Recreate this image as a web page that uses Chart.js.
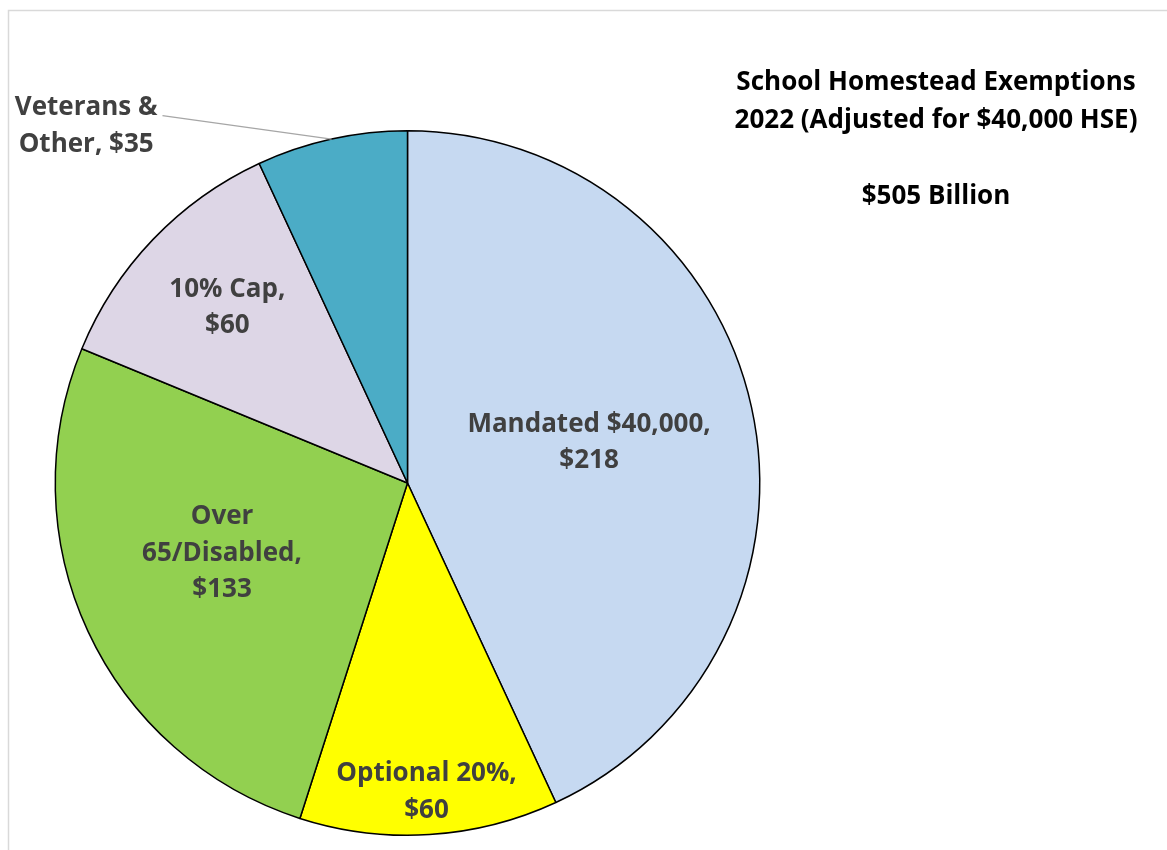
<!DOCTYPE html>
<html>
<head>
<meta charset="utf-8">
<script src="https://cdn.jsdelivr.net/npm/chart.js@4.4.1/dist/chart.umd.min.js"></script>
<style>
  html, body { margin: 0; padding: 0; background: #ffffff; }
  #wrap { width: 1167px; height: 850px; position: relative; }
</style>
</head>
<body>
<div id="wrap"><canvas id="c" width="1167" height="850"></canvas></div>
<script>
// ---- data ----
const categories = ["Mandated $40,000", "Optional 20%", "Over 65/Disabled", "10% Cap", "Veterans & Other"];
const values = [218, 60, 133, 60, 35];
const labelLines = [
  ["Mandated $40,000,", "$218"],
  ["Optional 20%,", "$60"],
  ["Over", "65/Disabled,", "$133"],
  ["10% Cap,", "$60"],
  ["Veterans &", "Other, $35"]
];
const titleLines = ["School Homestead Exemptions", "2022 (Adjusted for $40,000 HSE)"];
const totalLine = "$505 Billion";

// ---- styles ----
const colors = ["#C6D9F1", "#FFFF00", "#92D050", "#DDD6E6", "#4BACC6"];
// label placement: angle offset (deg) from slice mid-angle, radius fraction
const labelPlace = [
  { dAng: -1, f: 0.53, leader: false },
  { dAng: 0, f: 0.87, leader: false },
  { dAng: 5, f: 0.56, leader: false },
  { dAng: 1, f: 0.72, leader: false },
  { dAng: -29.3, f: 1.37, leader: true }
];
const FONT = "'Open Sans', Lato, sans-serif";
const TEXT_DY = 3;

const overlay = {
  id: 'overlay',
  beforeDraw(chart) {
    const ctx = chart.ctx;
    ctx.save();
    ctx.strokeStyle = '#D9D9D9';
    ctx.lineWidth = 1.5;
    ctx.strokeRect(8.5, 10.5, 1400, 1000);
    ctx.restore();
  },
  afterDatasetsDraw(chart) {
    const ctx = chart.ctx;
    const meta = chart.getDatasetMeta(0);
    ctx.save();
    ctx.font = "bold 26px " + FONT;
    ctx.fillStyle = '#404040';
    ctx.textAlign = 'center';
    ctx.textBaseline = 'middle';
    const lh = 36.5;
    meta.data.forEach((arc, i) => {
      const p = arc.getProps(['x', 'y', 'startAngle', 'endAngle', 'outerRadius'], true);
      const mid = (p.startAngle + p.endAngle) / 2;
      const pl = labelPlace[i];
      const a = mid + pl.dAng * Math.PI / 180;
      const cx = p.x + Math.cos(a) * p.outerRadius * pl.f;
      const cy = p.y + Math.sin(a) * p.outerRadius * pl.f;
      const lines = labelLines[i];
      const y0 = cy - (lines.length - 1) * lh / 2;
      lines.forEach((t, k) => ctx.fillText(t, cx, y0 + k * lh + TEXT_DY));
      if (pl.leader) {
        const w = ctx.measureText(lines[0]).width;
        const sx = cx + w / 2 + 5;
        const sy = y0 + TEXT_DY + 8;
        const ex = p.x + Math.cos(mid) * p.outerRadius;
        const ey = p.y + Math.sin(mid) * p.outerRadius;
        ctx.beginPath();
        ctx.strokeStyle = '#A6A6A6';
        ctx.lineWidth = 1.2;
        ctx.moveTo(sx, sy);
        ctx.lineTo(ex, ey);
        ctx.stroke();
      }
    });
    // title
    ctx.fillStyle = '#000000';
    ctx.font = "bold 26px " + FONT;
    ctx.fillText(titleLines[0], 936, 80 + TEXT_DY);
    ctx.fillText(titleLines[1], 936, 118 + TEXT_DY);
    ctx.fillText(totalLine, 936, 194 + TEXT_DY);
    ctx.restore();
  }
};

new Chart(document.getElementById('c'), {
  type: 'pie',
  data: {
    labels: categories,
    datasets: [{
      data: values,
      backgroundColor: colors,
      borderColor: '#000000',
      borderWidth: 1.5,
      hoverOffset: 0,
      offset: 0
    }]
  },
  options: {
    responsive: false,
    animation: false,
    events: [],
    layout: { padding: { left: 54, top: 130, right: 406, bottom: 14 } },
    plugins: {
      legend: { display: false },
      title: { display: false },
      tooltip: { enabled: false }
    }
  },
  plugins: [overlay]
});
</script>
</body>
</html>
